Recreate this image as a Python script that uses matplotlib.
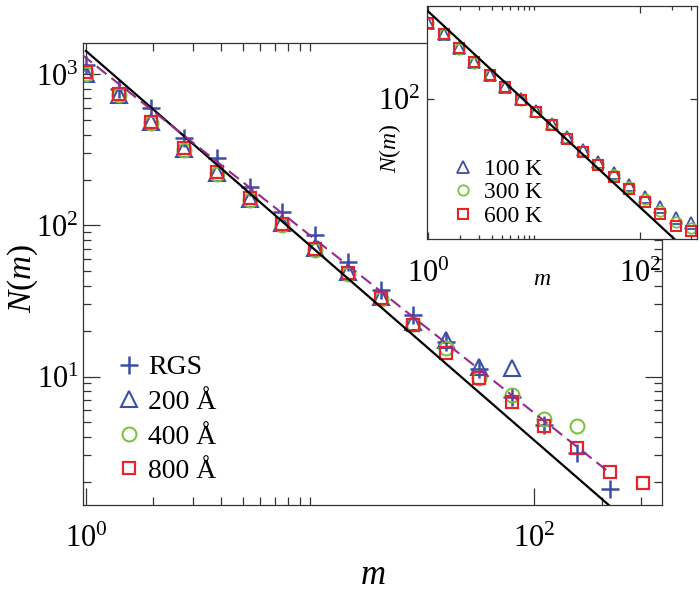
import numpy as np
import matplotlib
matplotlib.use('Agg')
from matplotlib import pyplot as plt
from matplotlib.ticker import FixedLocator, FuncFormatter, NullFormatter

plt.rcParams['font.family'] = ['Liberation Serif', 'DejaVu Serif']
plt.rcParams['mathtext.fontset'] = 'custom'
plt.rcParams['mathtext.rm'] = 'Liberation Serif'
plt.rcParams['mathtext.it'] = 'Liberation Serif:italic'

# cluster sizes (log bins, factor 1.4)
m_vals = [1.0, 1.4, 1.96, 2.74, 3.84, 5.38, 7.53, 10.5, 14.8, 20.7,
          28.9, 40.5, 56.7, 79.4, 111, 156, 218, 305]

# main panel
rgs = [1156, 798, 597, 378, 279, 181, 123, 86.5, 57.5, 37.4,
       25.5, 17.0, 11.2, 7.35, 4.78, 3.13, 1.80]
n200 = [1010, 735, 482, 320, 223, 150, 104, 71, 49, 33.8,
        22.8, 17.5, 11.6, 11.4]
n400 = [1000, 728, 478, 318, 220, 148, 101, 68.5, 47.5, 32.5,
        22.3, 15.4, 9.78, 7.53, 5.21, 4.70]
n800 = [1034, 740, 487, 324, 225, 151, 103, 69.8, 48.2, 33.0,
        21.9, 14.4, 9.74, 6.81, 4.70, 3.34, 2.34, 1.96]

# inset panel
n100K = [1000, 715, 468, 306, 209, 145, 99, 68.8, 47.8, 31.9,
         21.7, 15.0, 10.7, 7.5, 5.2, 3.8, 2.73, 2.32]
n300K = [995, 712, 462, 300, 205, 143, 97.5, 67.5, 46.5, 30.8,
         20.8, 14.2, 10.1, 7.0, 4.8, 3.4, 2.4, 2.05]
n600K = [991, 710, 464, 304, 207, 143, 97, 66.8, 45.5, 29.8,
         19.9, 13.5, 9.5, 6.5, 4.4, 3.07, 2.15, 1.83]

# power-law guide lines
line_m = [1, 1000]
line_N = [1430, 0.195]
dash_m = [0.96, 218]
dash_N = [1350, 2.3]

blue = '#3c4ea6'
green = '#7cc243'
red = '#e0262c'
purple = '#972a8c'

fig = plt.figure(figsize=(7, 5.97), dpi=100)
ax = fig.add_axes([0.1186, 0.1541, 0.827, 0.774])

ax.plot(m_vals[:len(rgs)], rgs, ls='none', marker='+', ms=13, mew=1.8,
        color=blue, label='RGS', zorder=2)
ax.plot(m_vals[:len(n200)], n200, ls='none', marker='^', ms=11, mew=1.5,
        mfc='none', mec=blue, label='200 Å', zorder=2)
ax.plot(m_vals[:len(n400)], n400, ls='none', marker='o', ms=10, mew=1.5,
        mfc='none', mec=green, label='400 Å', zorder=2)
ax.plot(m_vals, n800, ls='none', marker='s', ms=9, mew=1.6,
        mfc='none', mec=red, label='800 Å', zorder=2)
ax.plot(line_m, line_N, color='black', lw=1.6, zorder=3)
ax.plot(dash_m, dash_N, color=purple, lw=1.5, ls=(0, (6, 3)), zorder=3)

ax.set_xscale('log')
ax.set_yscale('log')
ax.set_xlim(0.97, 372)
ax.set_ylim(1.41, 1617)


def sci(v, pos):
    return r'$10^{%d}$' % round(np.log10(v))


def style_axes(a, xmajor, xminor, ymajor, yminor, lsize, majlen, minlen,
               xpad, ypad):
    a.xaxis.set_major_locator(FixedLocator(xmajor))
    a.xaxis.set_minor_locator(FixedLocator(xminor))
    a.yaxis.set_major_locator(FixedLocator(ymajor))
    a.yaxis.set_minor_locator(FixedLocator(yminor))
    a.xaxis.set_major_formatter(FuncFormatter(sci))
    a.yaxis.set_major_formatter(FuncFormatter(sci))
    a.xaxis.set_minor_formatter(NullFormatter())
    a.yaxis.set_minor_formatter(NullFormatter())
    a.tick_params(which='both', direction='in', top=True, right=True,
                  color='#333333', width=0.9, labelsize=lsize)
    a.tick_params(axis='x', which='major', pad=xpad)
    a.tick_params(axis='y', which='major', pad=ypad)
    a.tick_params(which='major', length=majlen)
    a.tick_params(which='minor', length=minlen)
    for s in a.spines.values():
        s.set_color('#333333')
        s.set_linewidth(0.9)


x_minor = [2, 3, 4, 5, 6, 7, 8, 9, 10, 200, 300]
y_minor = [d * f for d in (1, 10, 100, 1000) for f in range(2, 10)]
style_axes(ax, [1, 100], x_minor, [10, 100, 1000], y_minor, 22, 12, 6,
           14, 3)

ax.set_xlabel('$m$', fontsize=25, labelpad=4)
ax.set_ylabel('$N(m)$', fontsize=24)
ax.yaxis.set_label_coords(-0.075, 0.49)

ax.legend(loc='center left', bbox_to_anchor=(0.055, 0.185), frameon=False,
          fontsize=20, numpoints=1, handlelength=1.0, handletextpad=0.2,
          labelspacing=0.33, borderpad=0, borderaxespad=0)

# inset
ins = fig.add_axes([0.61, 0.599, 0.3857, 0.3913])
ins.set_facecolor('white')
ins.plot(m_vals, n100K, ls='none', marker='^', ms=8, mew=1.3,
         mfc='none', mec=blue, label='100 K', zorder=2)
ins.plot(m_vals, n300K, ls='none', marker='o', ms=7.5, mew=1.3,
         mfc='none', mec=green, label='300 K', zorder=2)
ins.plot(m_vals, n600K, ls='none', marker='s', ms=7, mew=1.5,
         mfc='none', mec=red, label='600 K', zorder=2)
ins.plot(line_m, line_N, color='black', lw=1.6, zorder=3)
ins.set_xscale('log')
ins.set_yscale('log')
ins.set_xlim(0.978, 345)
ins.set_ylim(1.43, 1690)
style_axes(ins, [1, 100], x_minor, [100], [], 22, 5, 3, 15, 5)
ins.set_xlabel('$m$', fontsize=17)
ins.xaxis.set_label_coords(0.426, -0.125)
ins.set_ylabel('$N(m)$', fontsize=17)
ins.yaxis.set_label_coords(-0.09, 0.39)
ins.legend(loc='center left', bbox_to_anchor=(0.09, 0.2), frameon=False,
           fontsize=17, numpoints=1, handlelength=1.0, handletextpad=0.4,
           labelspacing=0.08, borderpad=0, borderaxespad=0)

fig.savefig('out.png', dpi=100)
